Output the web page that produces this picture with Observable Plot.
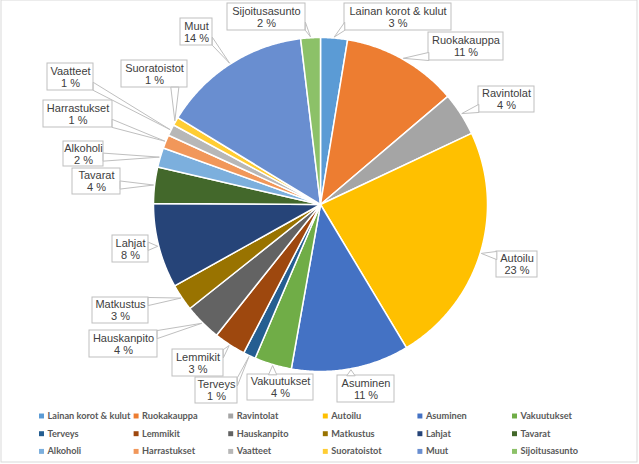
<!DOCTYPE html>
<html><head><meta charset="utf-8">
<script src="https://cdn.jsdelivr.net/npm/d3@7"></script>
<script src="https://cdn.jsdelivr.net/npm/@observablehq/plot@0.6"></script>
<style>html,body{margin:0;padding:0;background:#fff}#chart svg{display:block}</style>
</head><body><div id="chart"></div>
<script>
// ---- data ----
const categories = ["Lainan korot & kulut","Ruokakauppa","Ravintolat","Autoilu","Asuminen","Vakuutukset",
  "Terveys","Lemmikit","Hauskanpito","Matkustus","Lahjat","Tavarat",
  "Alkoholi","Harrastukset","Vaatteet","Suoratoistot","Muut","Sijoitusasunto"];
const values = [2.6, 11.2, 4.2, 23.4, 11.4, 3.6, 1.2, 3.1, 3.6, 2.6, 8.2, 3.5, 1.9, 1.3, 1.1, 0.8, 14.4, 1.9];
const colors = ["#5B9BD5","#ED7D31","#A5A5A5","#FFC000","#4472C4","#70AD47",
  "#255E91","#9E480E","#636363","#997300","#264478","#43682B",
  "#7CAFDD","#F1975A","#B7B7B7","#FFCD33","#698ED0","#8CC168"];

// ---- layout (label boxes: x1,y1,x2,y2) ----
const labelBoxes = [
  [344,3,451,30],[428,32,503,60],[478,86,534,112],[496,251,537,277],[337,375,394,402],[247,374,313,400],
  [195,377,237,403],[172,349,223,376],[89,330,157,357],[92,297,148,323],[112,235,148,262],[72,168,120,194],
  [63,141,103,166],[43,100,112,127],[47,63,93,90],[121,60,187,87],[180,18,212,45],[227,3,305,30]
];
const W = 639, H = 464;
const cx = 320, cy = 204, R = 167;

const total = d3.sum(values);
const arcs = d3.pie().sort(null).value(d => d)(values);

const slicePts = [];
arcs.forEach((a, i) => {
  const name = categories[i];
  slicePts.push({name, x: cx, y: cy});
  const n = Math.max(2, Math.ceil((a.endAngle - a.startAngle) / (Math.PI / 360)));
  for (let k = 0; k <= n; k++) {
    const t = a.startAngle + (a.endAngle - a.startAngle) * k / n;
    slicePts.push({name, x: cx + R * Math.sin(t), y: cy - R * Math.cos(t)});
  }
});

const boxes = categories.map((c, i) => {
  const b = labelBoxes[i];
  return {name: c, x1: b[0], y1: b[1], x2: b[2], y2: b[3],
    x: (b[0] + b[2]) / 2, y: (b[1] + b[3]) / 2,
    text: `${c}\n${Math.round(values[i] / total * 100)} %`};
});

// callout wedges from slice mid-angle to label box
const wedgePts = [];
arcs.forEach((a, i) => {
  const m = (a.startAngle + a.endAngle) / 2;
  const px = cx + (R + 1) * Math.sin(m), py = cy - (R + 1) * Math.cos(m);
  const b = boxes[i];
  let p1, p2, w = 4;
  if (px < b.x1 || px > b.x2) {
    const sx = px < b.x1 ? b.x1 : b.x2;
    const qy = Math.max(b.y1 + w, Math.min(b.y2 - w, py));
    p1 = [sx, qy - w]; p2 = [sx, qy + w];
  } else {
    const sy = py < b.y1 ? b.y1 : b.y2;
    const qx = Math.max(b.x1 + w, Math.min(b.x2 - w, px));
    p1 = [qx - w, sy]; p2 = [qx + w, sy];
  }
  wedgePts.push({name: b.name, x: p1[0], y: p1[1]}, {name: b.name, x: px, y: py}, {name: b.name, x: p2[0], y: p2[1]});
});

// legend
const legend = categories.map((c, i) => ({name: c, col: i % 6, row: Math.floor(i / 6)}))
  .map(d => ({...d, x: 41 + d.col * 94.6, y: 415.5 + d.row * 17.7}));

const chart = Plot.plot({
  width: W, height: H,
  margin: 0,
  x: {domain: [0, W], range: [0, W], axis: null},
  y: {domain: [0, H], range: [0, H], axis: null},
  color: {domain: categories, range: colors},
  style: {fontFamily: "'Liberation Sans', Arial, sans-serif", background: "#fff"},
  marks: [
    Plot.rect([{x1: 1, y1: 0, x2: 637, y2: 462}], {x1: "x1", y1: "y1", x2: "x2", y2: "y2", fill: "none", stroke: "#d9d9d9"}),
    Plot.line(slicePts, {x: "x", y: "y", z: "name", fill: "name", stroke: "white", strokeWidth: 1.5, curve: "linear-closed"}),
    Plot.rect(boxes, {x1: "x1", y1: "y1", x2: "x2", y2: "y2", fill: "white", stroke: "#bfbfbf", strokeWidth: 1}),
    Plot.line(wedgePts, {x: "x", y: "y", z: "name", fill: "white", stroke: "#bfbfbf", strokeWidth: 1, curve: "linear-closed"}),
    Plot.text(boxes, {x: "x", y: "y", text: "text", fontSize: 11, fill: "#404040", lineHeight: 1.1}),
    Plot.dot(legend, {x: "x", y: "y", fill: "name", symbol: "square", r: 2.8, stroke: null}),
    Plot.text(legend, {x: d => d.x + 6, y: "y", text: "name", textAnchor: "start", fontSize: 9.2, fontWeight: "bold", fontFamily: "Lato, sans-serif", fill: "#595959"})
  ]
});
document.getElementById("chart").appendChild(chart);
</script>
</body></html>
